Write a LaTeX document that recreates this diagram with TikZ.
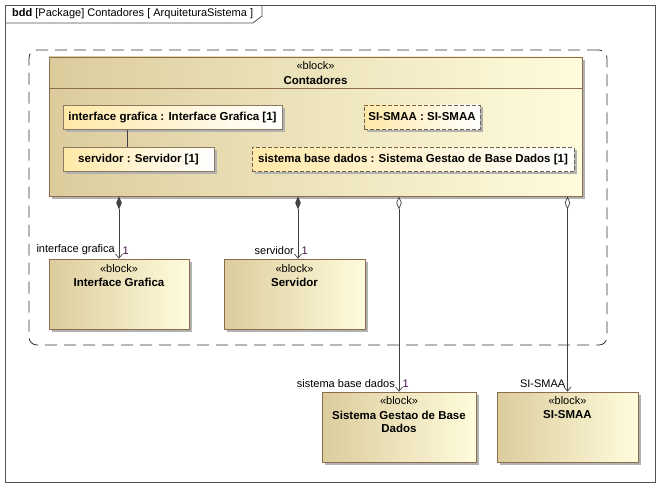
\documentclass[tikz,border=0pt]{standalone}
\usepackage{fontspec}
\setmainfont{Liberation Sans}
\usetikzlibrary{arrows.meta,shadows,calc}
\definecolor{blockL}{HTML}{DCCC9C}
\definecolor{blockR}{HTML}{FFFCDC}
\definecolor{blockline}{HTML}{8C6E4E}
\definecolor{partL}{HTML}{FFE9A8}
\definecolor{partline}{HTML}{8C7A60}
\definecolor{linec}{HTML}{404040}
\definecolor{multc}{HTML}{4A1050}
\definecolor{framec}{HTML}{505050}
\tikzset{
  regf/.style={font=\fontsize{11}{13}\selectfont},
  boldf/.style={font=\fontsize{11.5}{13}\selectfont\bfseries},
  blockbody/.style={draw=blockline, line width=0.8pt, left color=blockL, right color=blockR,
    drop shadow={shadow xshift=3pt, shadow yshift=-3pt, fill=black!30, opacity=1}, inner sep=0pt},
  partbox/.style={draw=partline, line width=0.7pt, left color=partL, right color=white,
    drop shadow={shadow xshift=2.5pt, shadow yshift=-2.5pt, fill=black!30, opacity=1},
    inner sep=0pt, minimum height=24pt, boldf},
  dashedpart/.style={partbox, draw=partline!80!black, dash pattern=on 4pt off 2pt},
  stereo/.style={regf, inner sep=0pt},
  bname/.style={boldf, inner sep=0pt, align=center},
  lbl/.style={regf, inner sep=1pt},
  mult/.style={regf, inner sep=1pt, text=multc},
  comp/.style={draw=linec, line width=0.7pt,
    {Diamond[length=13pt,width=5.5pt,fill=linec]}-{Straight Barb[length=4pt,width=7pt]}},
  agg/.style={draw=linec, line width=0.7pt,
    {Diamond[open,length=13pt,width=5.5pt,fill=white]}-{Straight Barb[length=4pt,width=7pt]}},
  container/.style={draw=black!80, line width=0.8pt, dash pattern=on 12pt off 7pt, rounded corners=8pt, inner sep=0pt},
  framebox/.style={draw=framec, line width=0.8pt, inner sep=0pt}
}
\begin{document}
\begin{tikzpicture}[x=1pt,y=-1pt]
\useasboundingbox (0,0) rectangle (662,487);
\fill[white] (0,0) rectangle (662,487);

% outer frame
\node[framebox, minimum width=650pt, minimum height=477pt] (frame) at (330,243.5) {};
\draw[framec, line width=0.8pt] (5,23) -- (253,23) -- (262,16) -- (262,5);
\node[regf, anchor=west, inner sep=0pt] (title) at (12,14) {\textbf{bdd} [Package] Contadores [ ArquiteturaSistema ]};

% dashed package boundary
\node[container, minimum width=578pt, minimum height=295pt] (pkg) at (318,197.5) {};

% Contadores block
\node[blockbody, minimum width=533pt, minimum height=139pt] (cont) at (315.5,126.5) {};
\draw[blockline, line width=0.8pt] ([yshift=-32pt]cont.north west) -- ([yshift=-32pt]cont.north east);
\node[stereo] (contst) at (315.5,66) {«block»};
\node[bname] (contnm) at (315.5,80) {Contadores};

% parts
\node[partbox, minimum width=219pt] (pig) at (172.5,117.5) {interface grafica : Interface Grafica [1]};
\node[partbox, minimum width=151pt] (psrv) at (138.5,159.5) {servidor : Servidor [1]};
\node[dashedpart, minimum width=116pt] (psmaa) at (422,117) {SI-SMAA : SI-SMAA};
\node[dashedpart, minimum width=322pt] (psbd) at (413,159.5) {sistema base dados : Sistema Gestao de Base Dados [1]};
\draw[linec, line width=0.7pt] ([xshift=-45.5pt]pig.south) -- ([xshift=-11.5pt]psrv.north);

% lower blocks
\node[blockbody, minimum width=140pt, minimum height=70pt] (ig) at (119,294) {};
\node[stereo] (igst) at ([yshift=-10pt]ig.north) {«block»};
\node[bname] (ignm) at ([yshift=-24pt]ig.north) {Interface Grafica};

\node[blockbody, minimum width=141pt, minimum height=70pt] (srv) at (294.5,294) {};
\node[stereo] (srvst) at ([yshift=-10pt]srv.north) {«block»};
\node[bname] (srvnm) at ([yshift=-24pt]srv.north) {Servidor};

\node[blockbody, minimum width=154pt, minimum height=70pt] (sbd) at (399,427) {};
\node[stereo] (sbdst) at ([yshift=-9pt]sbd.north) {«block»};
\node[bname] (sbdnm) at ([yshift=-30pt]sbd.north) {Sistema Gestao de Base\\Dados};

\node[blockbody, minimum width=141pt, minimum height=70pt] (smaa) at (567.5,427) {};
\node[stereo] (smaast) at ([yshift=-9pt]smaa.north) {«block»};
\node[bname] (smaanm) at ([yshift=-23pt]smaa.north) {SI-SMAA};

% connectors
\coordinate (e1) at (ig.north);
\coordinate (e2) at ([xshift=3.5pt]srv.north);
\coordinate (e3) at (sbd.north);
\coordinate (e4) at (smaa.north);

\draw[comp] (e1 |- cont.south) -- (e1);
\draw[comp] (e2 |- cont.south) -- (e2);
\draw[agg] (e3 |- cont.south) -- (e3);
\draw[agg] (e4 |- cont.south) -- (e4);

\node[lbl, anchor=south east] (l1) at ([xshift=-3pt,yshift=3pt]e1) {interface grafica};
\node[mult, anchor=south west] (m1) at ([xshift=2.5pt,yshift=3pt]e1) {1};
\node[lbl, anchor=south east] (l2) at ([xshift=-3pt,yshift=3pt]e2) {servidor};
\node[mult, anchor=south west] (m2) at ([xshift=2.5pt,yshift=3pt]e2) {1};
\node[lbl, anchor=south east] (l3) at ([xshift=-3pt,yshift=3pt]e3) {sistema base dados};
\node[mult, anchor=south west] (m3) at ([xshift=2.5pt,yshift=3pt]e3) {1};
\node[lbl, anchor=south east] (l4) at ([xshift=-1pt,yshift=3pt]e4) {SI-SMAA};
\end{tikzpicture}
\end{document}
